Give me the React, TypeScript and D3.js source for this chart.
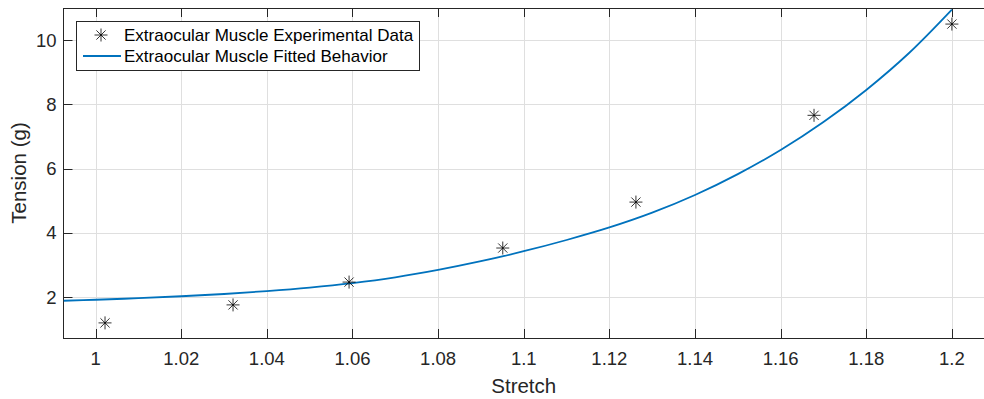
import * as d3 from 'd3'

const stretchData = [1.0022, 1.0321, 1.0592, 1.0951, 1.1262, 1.1678, 1.2]
const tensionData = [1.2, 1.76, 2.47, 3.53, 4.96, 7.66, 10.5]

// fitted curve at regular stretch values
const fitStretch = [0.9925, 1.0, 1.01, 1.02, 1.03, 1.04, 1.05, 1.06, 1.07, 1.08, 1.09, 1.1, 1.11, 1.12, 1.13, 1.14, 1.15, 1.16, 1.17, 1.18, 1.19, 1.2]
const fitTension = [1.89, 1.92, 1.97, 2.03, 2.1, 2.19, 2.3, 2.44, 2.62, 2.85, 3.12, 3.43, 3.78, 4.17, 4.63, 5.18, 5.83, 6.58, 7.45, 8.45, 9.6, 10.95]

const xTicks = [1, 1.02, 1.04, 1.06, 1.08, 1.1, 1.12, 1.14, 1.16, 1.18, 1.2]
const yTicks = [2, 4, 6, 8, 10]

const legendLabels = ['Extraocular Muscle Experimental Data', 'Extraocular Muscle Fitted Behavior']

const W = 984
const H = 399
const left = 63.5
const right = 984
const top = 8
const bottom = 338
const axisColor = '#262626'
const gridColor = '#dfdfdf'
const lineColor = '#0072BD'
const font = '"Liberation Sans", Arial, Helvetica, sans-serif'

const star = 'M-6.5,0H6.5M0,-6.5V6.5M-4.6,-4.6L4.6,4.6M-4.6,4.6L4.6,-4.6'

export default function App() {
  const x = d3.scaleLinear().domain([0.9925, 1.2075]).range([left, right])
  const y = d3.scaleLinear().domain([0.73, 11]).range([bottom, top])

  const line = d3
    .line<number>()
    .x((_, i) => x(fitStretch[i]))
    .y(d => y(d))
    .curve(d3.curveCatmullRom)

  const fmt = (v: number) => String(+v.toFixed(2))
  const tickLen = 9

  return (
    <svg
      width={W}
      height={H}
      style={{ position: 'fixed', left: 0, top: 0, background: '#fff' }}
      fontFamily={font}
    >
      <defs>
        <clipPath id="plotArea">
          <rect x={left} y={top} width={right - left} height={bottom - top} />
        </clipPath>
      </defs>
      <rect x={0} y={0} width={W} height={H} fill="#fff" />

      {/* grid */}
      <g stroke={gridColor} strokeWidth={1}>
        {xTicks.map(t => (
          <line key={'gx' + t} x1={Math.round(x(t)) + 0.5} x2={Math.round(x(t)) + 0.5} y1={top} y2={bottom} />
        ))}
        {yTicks.map(t => (
          <line key={'gy' + t} x1={left} x2={right} y1={Math.round(y(t)) + 0.5} y2={Math.round(y(t)) + 0.5} />
        ))}
      </g>

      {/* axes box */}
      <g stroke={axisColor} strokeWidth={1} fill="none">
        <line x1={left} x2={right} y1={bottom + 0.5} y2={bottom + 0.5} />
        <line x1={left} x2={right} y1={top + 0.5} y2={top + 0.5} />
        <line x1={left} x2={left} y1={top} y2={bottom + 1} />
        {xTicks.map(t => {
          const px = Math.round(x(t)) + 0.5
          return (
            <g key={'tx' + t}>
              <line x1={px} x2={px} y1={bottom} y2={bottom - tickLen} />
              <line x1={px} x2={px} y1={top} y2={top + tickLen} />
            </g>
          )
        })}
        {yTicks.map(t => {
          const py = Math.round(y(t)) + 0.5
          return <line key={'ty' + t} x1={left} x2={left + tickLen} y1={py} y2={py} />
        })}
      </g>

      {/* tick labels */}
      <g fill={axisColor} fontSize={18.5}>
        {xTicks.map(t => (
          <text key={'lx' + t} x={x(t)} y={bottom + 27} textAnchor="middle">
            {fmt(t)}
          </text>
        ))}
        {yTicks.map(t => (
          <text key={'ly' + t} x={left - 7} y={y(t)} dy="0.35em" textAnchor="end">
            {t}
          </text>
        ))}
      </g>

      {/* axis labels */}
      <text x={(x(1) + x(1.2)) / 2} y={393} textAnchor="middle" fontSize={20.5} fill={axisColor}>
        Stretch
      </text>
      <text
        transform={`translate(26,${(top + bottom) / 2}) rotate(-90)`}
        textAnchor="middle"
        fontSize={20.5}
        fill={axisColor}
      >
        Tension (g)
      </text>

      {/* fitted curve */}
      <g clipPath="url(#plotArea)">
        <path d={line(fitTension) || ''} fill="none" stroke={lineColor} strokeWidth={1.8} />
      </g>

      {/* experimental data */}
      <g stroke="#000" strokeWidth={0.8} fill="none">
        {stretchData.map((s, i) => (
          <path key={'p' + i} d={star} transform={`translate(${x(s)},${y(tensionData[i])})`} />
        ))}
      </g>

      {/* legend */}
      <g>
        <rect x={76.5} y={21.5} width={343} height={49} fill="#fff" stroke={axisColor} strokeWidth={1} />
        <path d={star} transform="translate(101,35)" stroke="#000" strokeWidth={0.8} fill="none" />
        <line x1={83} x2={121} y1={56} y2={56} stroke={lineColor} strokeWidth={1.8} />
        <g fontSize={17} fill="#000">
          <text x={124} y={35} dy="0.35em">
            {legendLabels[0]}
          </text>
          <text x={124} y={56} dy="0.35em">
            {legendLabels[1]}
          </text>
        </g>
      </g>
    </svg>
  )
}
